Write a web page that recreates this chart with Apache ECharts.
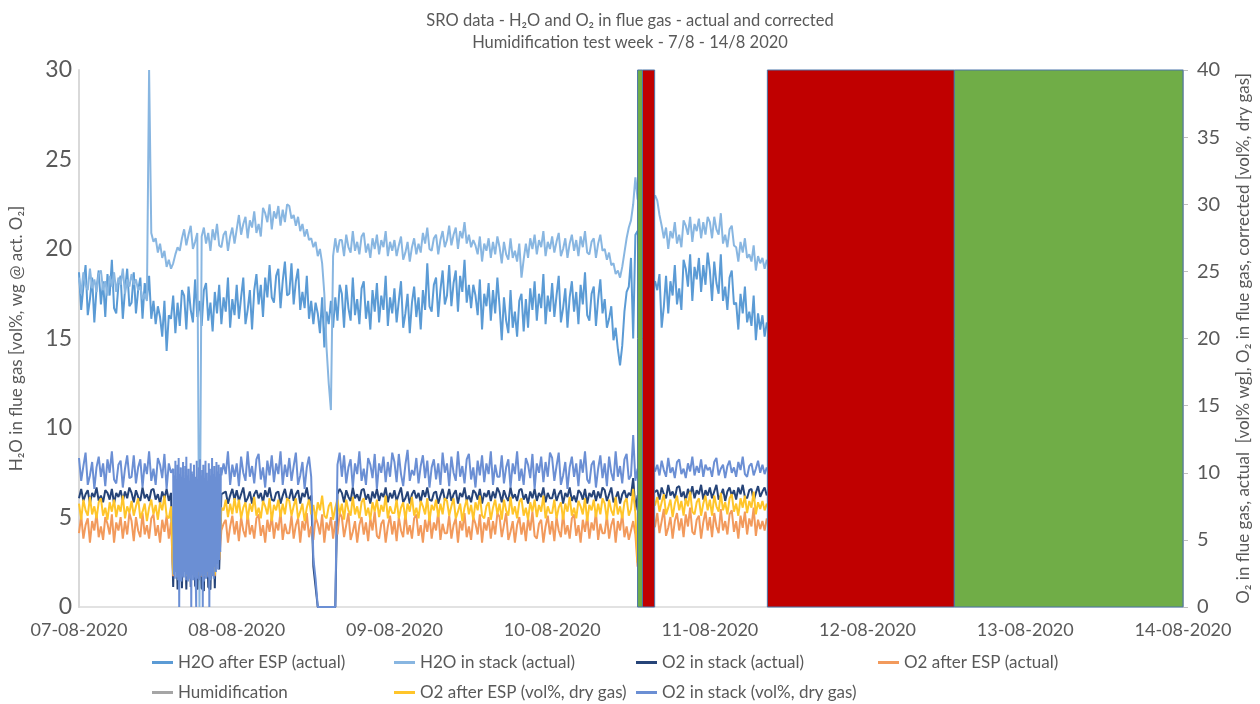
<!DOCTYPE html>
<html>
<head>
<meta charset="utf-8">
<script src="https://cdn.jsdelivr.net/npm/echarts@6/dist/echarts.min.js"></script>
<style>
  html, body { margin: 0; padding: 0; background: #ffffff; }
  #chart { width: 1260px; height: 704px; }
</style>
</head>
<body>
<div id="chart"></div>
<script>
// Logged samples every 20 minutes from 07-08-2020 00:00 (x axis in hours since then)
const SAMPLE_STEP_H = 1 / 3;
// O2 (dry, stack) analyser burst logging every 5 minutes, 07-08 14:20 - 21:40
const BURST_START_H = 14 + 1 / 3;
const BURST_STEP_H = 1 / 12;

const dateLabels = ['07-08-2020', '08-08-2020', '09-08-2020', '10-08-2020',
                    '11-08-2020', '12-08-2020', '13-08-2020', '14-08-2020'];

// H2O after ESP (actual), vol% wg
const h2oAfterEsp = [
  18.7,16.6,17.9,19.1,16.3,17.2,18.4,15.9,17.8,18.8,16.9,18.2,16.2,18.6,17.4,19.4,16.7,16.4,18.0,18.5,16.1,17.7,18.9,16.8,
  17.0,18.7,16.4,17.7,18.4,16.1,18.1,17.2,18.5,16.1,17.1,15.8,16.8,16.2,15.1,17.1,14.3,16.3,16.1,17.4,15.3,17.0,15.7,17.7,
  17.4,15.5,17.9,16.6,15.9,18.3,16.2,17.1,15.7,17.7,18.1,16.0,17.0,15.4,17.6,16.4,18.0,15.8,17.3,16.5,18.4,15.6,17.2,16.3,
  18.0,16.1,17.3,18.4,15.8,16.6,17.7,15.5,17.7,18.6,16.9,18.0,16.2,18.4,17.3,19.1,17.3,17.0,18.5,18.9,16.7,18.2,19.3,17.4,
  17.5,19.2,16.9,18.2,18.9,16.6,17.6,16.7,18.5,16.1,17.1,15.8,17.0,16.4,15.3,17.3,14.5,16.5,15.8,17.1,15.6,17.3,16.0,18.0,
  17.5,15.6,18.0,16.7,16.0,18.4,16.3,17.2,15.8,17.8,18.2,16.1,17.1,15.5,17.7,16.5,18.1,15.9,17.4,16.6,18.5,15.7,17.3,16.4,
  17.8,15.9,17.1,18.2,15.6,16.4,17.5,15.3,17.0,17.9,16.2,17.3,15.5,17.7,16.6,19.2,16.8,16.5,18.0,18.4,16.2,17.7,18.8,16.9,
  17.4,19.1,16.8,18.1,18.8,16.5,18.5,17.6,19.4,17.0,18.0,16.7,18.0,17.4,16.3,18.3,15.5,17.5,16.8,18.1,16.0,17.7,16.4,18.4,
  16.8,14.9,17.3,16.0,15.3,17.7,15.6,16.5,15.1,17.1,17.5,15.4,17.2,15.6,17.8,16.6,18.2,16.0,17.5,16.7,18.6,15.8,17.4,16.5,
  18.1,16.2,17.4,18.5,15.9,16.7,17.8,15.6,17.3,18.2,16.5,17.6,15.8,18.0,16.9,18.7,16.3,16.0,17.5,17.9,15.7,17.2,18.3,16.4,
  17.2,15.6,16.1,16.8,14.9,15.6,14.4,13.5,14.6,16.5,17.6,17.9,19.5,15.0,20.8,21.0,19.5,18.5,18.2,18.4,18.1,18.3,18.0,18.2,
  17.7,18.6,15.6,16.8,18.5,16.4,18.2,17.4,19.1,16.9,17.8,16.6,19.4,18.9,17.9,19.7,17.1,19.0,18.3,19.5,17.6,19.1,18.0,19.8,
  18.8,17.1,19.3,18.1,17.5,19.7,17.1,17.9,16.6,18.4,18.8,16.9,17.0,15.5,17.5,16.4,17.9,15.9,16.5,15.7,17.4,14.9,16.4,15.5,
  16.3,15.1,15.9
];

// H2O in stack (actual), vol% wg
const h2oStack = [
  18.4,17.5,18.7,18.0,17.7,18.9,17.8,18.3,17.6,18.6,18.8,17.7,18.2,17.4,18.5,17.9,18.7,17.6,18.4,18.0,18.9,17.5,18.3,17.9,
  18.6,18.0,18.3,17.7,17.9,17.2,17.5,17.1,30.0,20.9,20.4,20.6,19.8,20.3,19.5,19.9,19.0,19.4,18.9,19.2,19.7,20.1,19.9,20.6,
  21.1,20.2,20.8,21.3,20.0,20.4,20.9,0.0,20.7,21.2,20.3,20.9,19.9,21.1,20.5,21.4,20.2,20.1,20.8,21.0,19.9,20.7,21.2,20.3,
  21.1,21.9,20.8,21.4,21.8,20.6,21.6,21.2,22.1,20.9,21.4,20.7,22.3,22.0,21.5,22.5,21.1,22.1,21.7,22.4,21.3,22.2,21.5,22.5,
  22.4,21.7,21.9,21.3,21.8,21.0,21.4,20.7,21.1,20.5,20.6,20.1,20.4,19.6,20.0,19.2,17.5,14.5,12.5,11.0,19.6,20.6,19.8,20.5,
  20.5,19.6,20.8,20.1,19.8,21.0,19.9,20.4,19.7,20.7,20.9,19.8,20.3,19.5,20.6,20.0,20.8,19.7,20.5,20.1,21.0,19.6,20.4,19.9,
  20.5,19.6,20.2,20.7,19.4,19.8,20.4,19.3,20.1,20.6,19.7,20.3,19.8,20.9,20.3,21.2,20.0,19.9,20.6,20.8,19.7,20.5,21.0,20.1,
  20.5,21.3,20.2,20.8,21.2,20.0,21.0,20.6,21.5,20.3,20.8,20.1,20.5,20.2,19.7,20.7,19.3,20.3,19.9,20.6,19.5,20.4,19.7,20.7,
  20.1,19.2,20.4,19.7,19.4,20.6,19.5,19.9,19.3,20.3,18.4,19.4,20.3,19.5,20.6,20.0,20.8,19.7,20.5,20.1,21.0,19.6,20.4,20.0,
  20.7,19.8,20.4,20.9,19.6,20.0,20.6,19.5,20.3,20.8,19.9,20.5,19.6,20.7,20.1,21.0,19.8,19.7,20.4,20.6,19.5,20.3,20.8,19.9,
  20.0,19.4,19.8,19.1,19.2,18.6,18.8,18.4,19.0,19.8,20.6,21.2,21.6,22.5,24.0,22.8,22.5,22.3,22.4,22.1,22.6,22.3,22.7,23.0,
  22.7,21.9,21.3,20.6,21.2,20.0,21.0,20.6,21.5,20.3,20.8,20.1,21.6,21.3,20.8,21.8,20.4,21.4,21.0,21.7,20.6,21.5,20.8,21.8,
  21.5,20.6,21.8,21.1,20.8,22.0,20.3,20.8,20.1,21.1,21.3,20.2,20.1,19.3,20.4,19.8,20.6,19.5,19.7,19.3,20.2,18.8,19.6,19.2,
  19.5,18.9,19.4
];

// O2 in stack (actual), vol% wg
const o2StackActual = [
  8.1,8.8,7.9,8.4,8.7,7.7,8.5,8.2,8.9,7.9,8.3,7.8,8.7,8.5,8.0,8.8,7.7,8.5,8.2,8.7,7.9,8.6,8.1,8.9,
  8.5,7.8,8.7,8.2,7.9,8.9,8.1,8.4,7.9,8.7,8.8,8.0,8.4,7.7,8.6,8.1,8.8,7.9,8.5,1.5,8.5,1.3,8.2,1.4,
  8.4,1.3,8.7,1.5,8.2,1.6,1.3,8.5,1.4,1.2,8.6,1.5,1.3,8.3,1.4,8.7,2.8,8.4,8.5,8.6,7.7,8.3,8.8,8.0,
  8.7,7.9,8.4,8.9,7.8,8.1,8.6,7.7,8.4,8.7,8.1,8.5,7.8,8.7,8.2,8.9,8.0,7.9,8.5,8.6,7.7,8.3,8.8,8.0,
  8.1,8.8,7.9,8.4,8.7,7.7,8.5,8.2,8.9,7.9,8.3,3.0,1.5,0,0,0,0,0,0,0,0,0,8.4,8.8,
  8.5,7.8,8.7,8.2,7.9,8.9,8.1,8.4,7.9,8.7,8.8,8.0,8.4,7.7,8.6,8.1,8.8,7.9,8.5,8.2,8.9,7.8,8.5,8.1,
  8.7,7.9,8.4,8.9,7.8,8.1,8.6,7.7,8.4,8.7,8.1,8.5,7.8,8.7,8.2,8.9,8.0,7.9,8.5,8.6,7.7,8.3,8.8,8.0,
  8.1,8.8,7.9,8.4,8.7,7.7,8.5,8.2,8.9,7.9,8.3,7.8,8.7,8.5,8.0,8.8,7.7,8.5,8.2,8.7,7.9,8.6,8.1,8.9,
  8.5,7.8,8.7,8.2,7.9,8.9,8.1,8.4,7.9,8.7,8.8,8.0,8.4,7.7,8.6,8.1,8.8,7.9,8.5,8.2,8.9,7.8,8.5,8.1,
  8.1,8.8,7.9,8.4,8.7,7.7,8.5,8.2,8.9,7.9,8.3,7.8,8.7,8.5,8.0,8.8,7.7,8.5,8.2,8.7,7.9,8.6,8.1,8.9,
  8.7,7.9,8.4,8.9,7.8,8.1,8.6,7.7,8.4,8.7,8.1,8.5,8.3,9.6,7.2,8.3,8.4,8.5,8.3,8.4,8.5,8.3,8.4,8.6,
  8.7,8.0,8.9,8.4,8.1,9.1,8.3,8.6,8.1,8.9,9.0,8.2,8.6,7.9,8.8,8.3,9.0,8.1,8.7,8.4,9.1,8.0,8.7,8.3,
  8.9,8.1,8.6,9.1,8.0,8.3,8.8,7.9,8.6,8.9,8.3,8.7,8.0,8.9,8.4,9.1,8.2,8.1,8.7,8.8,7.9,8.5,9.0,8.2,
  8.6,8.9,8.3
];

// O2 after ESP (actual), vol% wg
const o2EspActual = [
  5.5,6.8,5.1,6.1,6.6,4.8,6.4,5.7,7.0,5.2,6.0,5.0,6.7,6.2,5.4,6.9,4.8,6.3,5.7,6.7,5.1,6.4,5.4,7.0,
  6.4,4.9,6.7,5.7,5.2,7.0,5.4,6.1,5.1,6.6,6.9,5.3,6.1,4.8,6.5,5.6,6.8,5.1,6.3,2.3,6.2,2.4,5.9,2.3,
  6.0,2.3,6.3,2.4,5.9,2.3,2.4,6.1,2.3,2.4,6.2,2.3,2.4,5.8,2.3,6.2,3.5,5.7,6.2,6.5,4.8,6.0,6.8,5.4,
  6.4,4.9,6.7,5.7,5.2,7.0,5.4,6.1,5.1,6.6,6.9,5.3,6.1,4.8,6.5,5.6,6.8,5.1,6.3,5.7,7.1,5.0,6.2,5.5,
  5.5,6.8,5.1,6.1,6.6,4.8,6.4,5.7,7.0,5.2,6.0,5.0,6.7,6.2,5.4,6.9,4.8,6.3,5.7,6.7,5.1,6.4,5.4,7.0,
  6.7,5.2,6.1,7.0,5.0,5.6,6.4,4.8,6.1,6.7,5.4,6.3,4.9,6.6,5.7,7.1,5.3,5.1,6.2,6.5,4.8,6.0,6.8,5.4,
  6.4,4.9,6.7,5.7,5.2,7.0,5.4,6.1,5.1,6.6,6.9,5.3,6.1,4.8,6.5,5.6,6.8,5.1,6.3,5.7,7.1,5.0,6.2,5.5,
  5.5,6.8,5.1,6.1,6.6,4.8,6.4,5.7,7.0,5.2,6.0,5.0,6.7,6.2,5.4,6.9,4.8,6.3,5.7,6.7,5.1,6.4,5.4,7.0,
  6.7,5.2,6.1,7.0,5.0,5.6,6.4,4.8,6.1,6.7,5.4,6.3,4.9,6.6,5.7,7.1,5.3,5.1,6.2,6.5,4.8,6.0,6.8,5.4,
  6.4,4.9,6.7,5.7,5.2,7.0,5.4,6.1,5.1,6.6,6.9,5.3,6.1,4.8,6.5,5.6,6.8,5.1,6.3,5.7,7.1,5.0,6.2,5.5,
  5.5,6.8,5.1,6.1,6.6,4.8,6.4,5.7,7.0,5.2,6.0,5.0,5.7,6.4,5.4,3.0,5.9,6.0,5.9,6.0,5.9,6.0,5.9,6.0,
  7.0,5.5,6.4,7.3,5.3,5.9,6.7,5.1,6.4,7.0,5.7,6.6,5.2,6.9,6.0,7.4,5.6,5.4,6.5,6.8,5.1,6.3,7.1,5.7,
  6.7,5.2,7.0,6.0,5.5,7.3,5.7,6.4,5.4,6.9,7.2,5.6,6.4,5.1,6.8,5.9,7.1,5.4,6.6,6.0,7.4,5.3,6.5,5.8,
  6.4,5.7,6.6
];

// Humidification (legend entry only)
const humidification = [];

// O2 after ESP, vol% dry gas
const o2EspDry = [
  7.7,6.5,8.0,7.2,6.8,8.2,6.9,7.5,6.6,7.8,8.1,6.8,7.4,6.5,7.8,7.1,8.0,6.7,7.6,7.1,8.3,6.6,7.5,7.0,
  7.9,6.8,7.5,8.1,6.6,7.1,7.7,6.4,7.4,8.0,6.9,7.6,6.5,7.8,7.2,8.3,6.8,6.6,7.5,2.4,7.6,2.3,7.2,2.4,
  7.5,2.3,7.8,2.5,7.4,2.4,2.3,7.6,2.4,2.3,7.7,2.5,2.3,7.3,2.4,7.8,3.6,7.4,7.2,8.0,6.7,7.7,6.9,8.1,
  7.0,8.0,6.6,7.4,7.8,6.5,7.7,7.1,8.2,6.8,7.4,6.6,7.9,7.5,6.9,8.1,6.4,7.6,7.2,8.0,6.7,7.7,6.9,8.1,
  7.9,6.8,7.5,8.1,6.6,7.1,7.7,6.4,7.4,8.0,6.9,7.6,6.5,7.8,7.2,8.3,6.8,6.6,7.5,7.8,6.5,7.4,8.0,6.9,
  7.7,6.5,8.0,7.2,6.8,8.2,6.9,7.5,6.6,7.8,8.1,6.8,7.4,6.5,7.8,7.1,8.0,6.7,7.6,7.1,8.3,6.6,7.5,7.0,
  7.0,8.0,6.6,7.4,7.8,6.5,7.7,7.1,8.2,6.8,7.4,6.6,7.9,7.5,6.9,8.1,6.4,7.6,7.2,8.0,6.7,7.7,6.9,8.1,
  7.9,6.8,7.5,8.1,6.6,7.1,7.7,6.4,7.4,8.0,6.9,7.6,6.5,7.8,7.2,8.3,6.8,6.6,7.5,7.8,6.5,7.4,8.0,6.9,
  7.7,6.5,8.0,7.2,6.8,8.2,6.9,7.5,6.6,7.8,8.1,6.8,7.4,6.5,7.8,7.1,8.0,6.7,7.6,7.1,8.3,6.6,7.5,7.0,
  7.0,8.0,6.6,7.4,7.8,6.5,7.7,7.1,8.2,6.8,7.4,6.6,7.9,7.5,6.9,8.1,6.4,7.6,7.2,8.0,6.7,7.7,6.9,8.1,
  7.7,6.5,8.0,7.2,6.8,8.2,6.9,7.5,6.6,7.8,8.1,6.8,7.3,8.8,7.0,3.3,7.5,7.6,7.5,7.6,7.5,7.6,7.5,7.6,
  8.2,7.1,7.8,8.4,6.9,7.4,8.0,6.7,7.7,8.3,7.2,7.9,6.8,8.1,7.5,8.6,7.1,6.9,7.8,8.1,6.8,7.7,8.3,7.2,
  8.0,6.8,8.3,7.5,7.1,8.5,7.2,7.8,6.9,8.1,8.4,7.1,7.7,6.8,8.1,7.4,8.3,7.0,7.9,7.4,8.6,6.9,7.8,7.3,
  7.9,7.2,7.7
];

// O2 in stack, vol% dry gas (null where the 5-minute burst log below applies)
const o2StackDry = [
  11.1,9.4,10.5,11.5,9.1,9.8,10.8,8.8,10.4,11.2,9.7,10.7,9.0,11.0,10.0,11.6,9.5,9.2,10.6,10.9,8.9,10.3,11.3,9.6,
  9.7,11.3,9.2,10.4,11.0,8.9,10.7,9.9,11.6,9.4,10.3,9.1,11.1,10.6,9.6,11.4,8.8,10.7,10.0,null,null,null,null,null,
  null,null,null,null,null,null,null,null,null,null,null,null,null,null,null,null,null,null,10.7,9.9,11.6,9.1,10.6,9.7,
  10.7,9.0,11.2,10.0,9.4,11.6,9.7,10.5,9.2,11.0,11.4,9.5,10.4,8.9,10.9,9.8,11.3,9.3,10.7,9.9,11.6,9.1,10.6,9.7,
  11.1,9.4,10.5,11.5,9.1,9.8,10.8,8.8,10.4,11.2,9.7,3.6,2.1,0,0,0,0,0,0,0,0,0,10.6,11.5,
  9.7,11.3,9.2,10.4,11.0,8.9,10.7,9.9,11.6,9.4,10.3,9.1,11.1,10.6,9.6,11.4,8.8,10.7,10.0,11.2,9.3,10.8,9.7,11.5,
  10.8,9.3,11.4,9.9,9.0,10.6,11.7,9.4,10.2,9.8,11.1,9.2,10.5,11.3,9.6,10.9,8.9,10.4,11.0,9.5,10.7,9.1,11.5,10.0,
  10.7,9.0,11.2,10.0,9.4,11.6,9.7,10.5,9.2,11.0,11.4,9.5,10.4,8.9,10.9,9.8,11.3,9.3,10.7,9.9,11.6,9.1,10.6,9.7,
  9.7,11.3,9.2,10.4,11.0,8.9,10.7,9.9,11.6,9.4,10.3,9.1,11.1,10.6,9.6,11.4,8.8,10.7,10.0,11.2,9.3,10.8,9.7,11.5,
  11.1,9.4,10.5,11.5,9.1,9.8,10.8,8.8,10.4,11.2,9.7,10.7,9.0,11.0,10.0,11.6,9.5,9.2,10.6,10.9,8.9,10.3,11.3,9.6,
  10.7,9.0,11.2,10.0,9.4,11.6,9.7,10.5,9.2,11.0,11.4,9.5,9.8,12.8,9.4,10.3,10.0,10.4,10.1,10.3,10.0,10.2,10.4,10.1,
  10.6,9.8,10.9,10.2,9.7,11.1,10.0,10.4,9.6,10.8,11.0,9.9,10.3,9.6,10.7,10.1,11.2,9.8,10.5,10.0,11.0,9.7,10.6,10.2,
  10.4,9.7,10.8,11.1,9.8,10.3,10.6,9.6,10.5,10.9,10.0,10.4,9.7,10.8,10.2,11.2,9.9,9.7,10.5,10.7,9.8,10.3,10.9,10.0,
  10.6,9.9,10.4
];

// O2 in stack, vol% dry gas - 5-minute burst log during the unstable period
const o2StackDryBurst = [
  10.3,2.4,9.8,2.1,10.9,2.6,9.5,2.2,10.6,2.0,
  11.1,0.0,9.9,2.5,10.4,1.9,9.7,2.3,10.8,2.2,
  9.6,2.6,10.5,2.0,11.2,2.4,9.8,1.9,10.3,2.3,
  9.4,2.1,10.7,0.0,10.1,2.5,9.9,2.0,10.6,2.2,
  9.7,2.4,0.0,10.9,2.1,9.5,2.6,10.4,2.0,11.0,
  2.3,9.8,2.5,10.2,0.0,10.6,1.9,9.6,2.4,10.9,
  2.1,10.0,2.6,9.4,2.2,10.7,0.0,10.3,2.0,9.8,
  2.5,11.1,2.3,9.9,2.1,10.5,3.0,9.7,2.6,10.8,
  3.2,10.1,2.8,10.6,3.5,9.9,4.1,10.4,9.8
];

// Test phases, hours since 07-08-2020 00:00 (green = humidification on, red = off)
const phaseStart = [85.0, 85.75, 104.75, 133.2];
const phaseEnd   = [85.75, 87.6, 133.2, 168.0];
const phaseColor = ['#70AD47', '#C00000', '#C00000', '#70AD47'];

const FONT = 'Lato, "Open Sans", sans-serif';
const TXT = '#595959';

function toPoints(values, burst) {
  const pts = [];
  values.forEach((v, i) => { if (v !== null) pts.push([i * SAMPLE_STEP_H, v]); });
  if (burst) {
    burst.forEach((v, k) => pts.push([BURST_START_H + k * BURST_STEP_H, v]));
    pts.sort((a, b) => a[0] - b[0]);
  }
  return pts;
}

const seriesDefs = [
  { name: 'H2O after ESP (actual)',       data: h2oAfterEsp,    color: '#5B9BD5', axis: 0 },
  { name: 'H2O in stack (actual)',        data: h2oStack,       color: '#88B6E1', axis: 0 },
  { name: 'O2 in stack (actual)',         data: o2StackActual,  color: '#264478', axis: 1 },
  { name: 'O2 after ESP (actual)',        data: o2EspActual,    color: '#F29A5C', axis: 1 },
  { name: 'Humidification',               data: humidification, color: '#A5A5A5', axis: 1 },
  { name: 'O2 after ESP (vol%, dry gas)', data: o2EspDry,       color: '#FFC52A', axis: 1 },
  { name: 'O2 in stack (vol%, dry gas)',  data: o2StackDry,     color: '#6B8FD4', axis: 1, burst: o2StackDryBurst }
];

const lineSeries = seriesDefs.map(d => ({
  name: d.name,
  type: 'line',
  yAxisIndex: d.axis,
  data: toPoints(d.data, d.burst),
  showSymbol: false,
  symbol: 'none',
  color: d.color,
  lineStyle: { width: 2, color: d.color },
  z: 2
}));

const phaseSeries = {
  type: 'custom',
  name: 'phases',
  xAxisIndex: 0,
  yAxisIndex: 0,
  silent: true,
  z: 10,
  encode: { x: [0, 1] },
  data: phaseStart.map((s, k) => [s, phaseEnd[k], k]),
  renderItem: function (params, api) {
    const p0 = api.coord([api.value(0), 30]);
    const p1 = api.coord([api.value(1), 0]);
    return {
      type: 'rect',
      shape: { x: p0[0], y: p0[1], width: p1[0] - p0[0], height: p1[1] - p0[1] },
      style: { fill: phaseColor[api.value(2)], stroke: '#4A74A8', lineWidth: 1 }
    };
  }
};

// One legend block per entry so the two rows line up in fixed columns
const legendCols = [152, 394, 636, 878];
const legendRows = [654, 684];
const legends = seriesDefs.map((d, k) => ({
  data: [d.name],
  left: legendCols[k < 4 ? k : k - 4],
  top: legendRows[k < 4 ? 0 : 1],
  padding: 0,
  icon: 'rect',
  itemWidth: 21,
  itemHeight: 3,
  itemGap: 0,
  selectedMode: false,
  textStyle: { fontFamily: FONT, fontSize: 17, color: TXT }
}));

const chart = echarts.init(document.getElementById('chart'), null, { renderer: 'canvas' });
chart.setOption({
  animation: false,
  backgroundColor: '#ffffff',
  title: {
    text: 'SRO data - H\u2082O and O\u2082 in flue gas - actual and corrected\nHumidification test week - 7/8 - 14/8 2020',
    left: 'center',
    top: 5,
    textStyle: { fontFamily: FONT, fontSize: 16.5, fontWeight: 'normal', color: TXT, lineHeight: 22 }
  },
  legend: legends,
  grid: { left: 72, right: 70, top: 70, bottom: 97, containLabel: false },
  xAxis: {
    type: 'value',
    min: 0,
    max: 168,
    interval: 24,
    axisLine: { show: true, lineStyle: { color: '#D9D9D9', width: 1.5 } },
    axisTick: { show: false },
    splitLine: { show: false },
    axisLabel: {
      fontFamily: FONT, fontSize: 18, color: TXT, margin: 14,
      formatter: v => dateLabels[Math.round(v / 24)]
    }
  },
  yAxis: [
    {
      type: 'value',
      min: 0, max: 30, interval: 5,
      name: 'H\u2082O in flue gas [vol%, wg @ act. O\u2082]',
      nameLocation: 'middle',
      nameRotate: 90,
      nameGap: 54,
      nameTextStyle: { fontFamily: FONT, fontSize: 17, color: TXT },
      axisLine: { show: true, lineStyle: { color: '#D9D9D9', width: 2 } },
      axisTick: { show: false },
      splitLine: { show: false },
      axisLabel: { fontFamily: FONT, fontSize: 23, color: TXT, margin: 7 }
    },
    {
      type: 'value',
      min: 0, max: 40, interval: 5,
      position: 'right',
      name: 'O\u2082 in flue gas, actual  [vol% wg], O\u2082 in flue gas, corrected [vol%, dry gas]',
      nameLocation: 'middle',
      nameRotate: 90,
      nameGap: 52,
      nameTextStyle: { fontFamily: FONT, fontSize: 17, color: TXT },
      axisLine: { show: true, lineStyle: { color: '#BFBFBF', width: 1 } },
      axisTick: { show: true, inside: false, length: 5, lineStyle: { color: '#BFBFBF' } },
      splitLine: { show: false },
      axisLabel: { fontFamily: FONT, fontSize: 20, color: TXT, margin: 14 }
    }
  ],
  series: lineSeries.concat([phaseSeries])
});
</script>
</body>
</html>
